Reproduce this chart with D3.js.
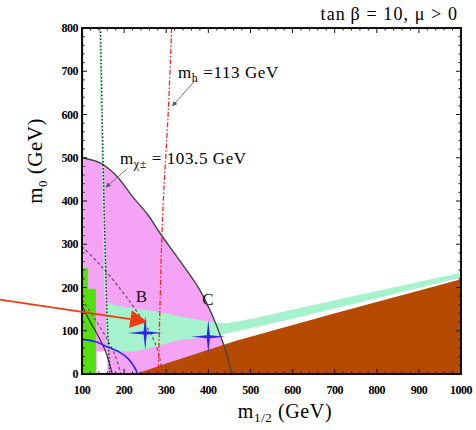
<!DOCTYPE html>
<html>
<head>
<meta charset="utf-8">
<script src="https://cdn.jsdelivr.net/npm/d3@7"></script>
<style>
  body { margin: 0; background: #fff; }
  svg { display: block; font-family: "Liberation Serif", "DejaVu Serif", serif; }
</style>
</head>
<body>
<svg id="chart" width="476" height="430"></svg>
<script>
// axis ticks
const xTicks = [100, 200, 300, 400, 500, 600, 700, 800, 900, 1000];
const yTicks = [0, 100, 200, 300, 400, 500, 600, 700, 800];

// regions, [m1/2, m0] in GeV
const pinkRegion = [[100, 500], [143, 488], [180, 460], [221, 409], [255, 370], [285, 326], [330, 265],
  [380, 194], [411, 132], [432, 80], [447, 35], [455, 0], [160, 0], [160, 52], [135, 52], [135, 0], [100, 0]];
const mintTop = [[156, 168], [175, 160], [220, 152], [285, 143], [350, 130], [400, 122], [440, 118], [466, 121], [703, 171], [1000, 234]];
const mintBottom = [[1000, 223], [703, 152], [466, 98], [400, 85], [330, 78], [280, 65], [240, 55], [200, 52], [165, 58], [158, 70]];
const mintEdgeStrip = [[100, 245], [100, 800], [104, 800], [104, 245]];
const mintLineStrip = [[140, 800], [143.5, 800], [155.5, 250], [157.5, 168], [153.5, 168], [151.5, 250]];
const brownRegion = [[228, 0], [300, 24], [466, 77], [703, 141], [1000, 219], [1000, 0]];
const greenRegion = [[100, 0], [100, 245], [114, 245], [114, 197], [133, 197], [133, 0]];

// contours
const charginoLine = [[144, 800], [148, 600], [152, 400], [156, 250], [159, 150], [162, 80], [166, 0]];
const higgsLine = [[313, 800], [305, 610], [293, 400], [289, 300], [285, 150], [281, 0]];
const g2Edge = [[100, 500], [143, 488], [180, 460], [221, 409], [255, 370], [285, 326], [330, 265],
  [380, 194], [411, 132], [432, 80], [447, 35], [455, 0]];
const dashedOuter = [[100, 295], [150, 245], [200, 185], [222, 156], [250, 115], [272, 75], [285, 35], [290, 0]];
const dashedInner = [[100, 172], [130, 128], [160, 80], [180, 40], [192, 0]];
const solidInner = [[100, 158], [120, 120], [140, 85], [155, 55], [165, 25], [172, 0]];
const blueLine = [[100, 80], [130, 75], [160, 63], [190, 50], [210, 35], [225, 15], [232, 0]];

// benchmark points
const points = [{ name: "B", m12: 250, m0: 95 }, { name: "C", m12: 400, m0: 86 }];
const pointLabels = [{ name: "B", m12: 241, m0: 166 }, { name: "C", m12: 399, m0: 160 }];

// annotations
const arrowFrom = [-95, 172], arrowTo = [255, 121];
const higgsArrow = [[370, 680], [315, 620]];
const charginoArrow = [[208, 475], [157, 432]];

const svg = d3.select("#chart");
const x = d3.scaleLinear().domain([100, 1000]).range([82, 461]);
const y = d3.scaleLinear().domain([0, 800]).range([374, 28]);

const poly = d3.line().x(d => x(d[0])).y(d => y(d[1]));
const curve = d3.line().x(d => x(d[0])).y(d => y(d[1])).curve(d3.curveCatmullRom);

const plot = svg.append("g");
plot.append("clipPath").attr("id", "clip").append("rect")
  .attr("x", x(100)).attr("y", y(800)).attr("width", x(1000) - x(100)).attr("height", y(0) - y(800));
const g = plot.append("g").attr("clip-path", "url(#clip)");

// filled regions
g.append("path").attr("d", curve(pinkRegion.slice(0, 12)) + "L" + pinkRegion.slice(12).map(d => x(d[0]) + "," + y(d[1])).join("L") + "Z")
  .attr("fill", "#f5a3f5");
g.append("path").attr("d", curve(mintTop) + "L" + curve(mintBottom).slice(1) + "Z").attr("fill", "#a6f2cc");
g.append("path").attr("d", poly(mintEdgeStrip) + "Z").attr("fill", "#a6f2cc");
g.append("path").attr("d", poly(mintLineStrip) + "Z").attr("fill", "#a6f2cc");
g.append("path").attr("d", poly(brownRegion) + "Z").attr("fill", "#b54a00");
g.append("path").attr("d", poly(greenRegion) + "Z").attr("fill", "#55e010");

// contour lines
const lines = [
  { d: g2Edge, stroke: "#444", w: 1.4, dash: null },
  { d: dashedOuter, stroke: "#6a4a6a", w: 1.2, dash: "3,2.5" },
  { d: dashedInner, stroke: "#6a4a6a", w: 1.1, dash: "3,2.5" },
  { d: solidInner, stroke: "#333", w: 1.2, dash: null },
  { d: charginoLine, stroke: "#222", w: 1.4, dash: "1.5,2" },
  { d: higgsLine, stroke: "#ff2020", w: 1.3, dash: "5,2,1.5,2" },
  { d: blueLine, stroke: "#2a2ae6", w: 1.6, dash: null }
];
g.selectAll("path.contour").data(lines).join("path").attr("class", "contour")
  .attr("d", d => curve(d.d)).attr("fill", "none")
  .attr("stroke", d => d.stroke).attr("stroke-width", d => d.w)
  .attr("stroke-dasharray", d => d.dash);

// benchmark stars
const star = (cx, cy, r, w) => {
  const p = [];
  for (let i = 0; i < 8; i++) {
    const a = i * Math.PI / 4, rr = i % 2 ? w : r;
    p.push([cx + rr * Math.cos(a), cy + rr * Math.sin(a)]);
  }
  return "M" + p.join("L") + "Z";
};
plot.selectAll("path.star").data(points).join("path").attr("class", "star")
  .attr("d", d => star(x(d.m12), y(d.m0), 17, 2.2)).attr("fill", "#2a2ae6");
plot.selectAll("text.pt").data(pointLabels).join("text").attr("class", "pt")
  .attr("x", d => x(d.m12)).attr("y", d => y(d.m0)).attr("text-anchor", "middle")
  .attr("font-size", 17).attr("fill", "#111").text(d => d.name);

// frame and ticks
const frame = svg.append("g");
frame.append("rect").attr("x", x(100)).attr("y", y(800)).attr("width", x(1000) - x(100)).attr("height", y(0) - y(800))
  .attr("fill", "none").attr("stroke", "#111").attr("stroke-width", 2);
const xMinor = d3.range(100, 1001, 20), yMinor = d3.range(0, 801, 20);
const tk = major => major ? 5 : 2.5;
frame.selectAll("line.xb").data(xMinor).join("line")
  .attr("x1", d => x(d)).attr("x2", d => x(d)).attr("y1", y(0)).attr("y2", d => y(0) - tk(d % 100 === 0))
  .attr("stroke", "#111");
frame.selectAll("line.xt").data(xMinor).join("line")
  .attr("x1", d => x(d)).attr("x2", d => x(d)).attr("y1", y(800)).attr("y2", d => y(800) + tk(d % 100 === 0))
  .attr("stroke", "#111");
frame.selectAll("line.yl").data(yMinor).join("line")
  .attr("y1", d => y(d)).attr("y2", d => y(d)).attr("x1", x(100)).attr("x2", d => x(100) + tk(d % 100 === 0))
  .attr("stroke", "#111");
frame.selectAll("line.yr").data(yMinor).join("line")
  .attr("y1", d => y(d)).attr("y2", d => y(d)).attr("x1", x(1000)).attr("x2", d => x(1000) - tk(d % 100 === 0))
  .attr("stroke", "#111");

frame.selectAll("text.xl").data(xTicks).join("text").attr("class", "xl")
  .attr("x", d => x(d)).attr("y", 394).attr("text-anchor", "middle")
  .attr("font-size", 12).attr("font-weight", "bold").attr("letter-spacing", -0.5).text(d => d);
frame.selectAll("text.yl").data(yTicks).join("text").attr("class", "yl")
  .attr("x", 78).attr("y", d => y(d) + 4).attr("text-anchor", "end")
  .attr("font-size", 12).attr("font-weight", "bold").attr("letter-spacing", -0.5).text(d => d);

// axis titles
const xt = svg.append("text").attr("x", 285).attr("y", 418).attr("text-anchor", "middle").attr("font-size", 20)
  .attr("letter-spacing", 0.6);
xt.append("tspan").text("m");
xt.append("tspan").attr("font-size", 13).attr("dy", 4).text("1/2");
xt.append("tspan").attr("dy", -4).text(" (GeV)");
const yt = svg.append("text").attr("transform", "translate(42,161) rotate(-90)").attr("text-anchor", "middle").attr("font-size", 21)
  .attr("letter-spacing", 0.5);
yt.append("tspan").text("m");
yt.append("tspan").attr("font-size", 13).attr("dy", 5).text("0");
yt.append("tspan").attr("dy", -5).text(" (GeV)");

// title
svg.append("text").attr("x", 458).attr("y", 20).attr("text-anchor", "end").attr("font-size", 18)
  .attr("letter-spacing", 1.1).text("tan\u2009\u03b2 = 10,  \u03bc > 0");

// contour labels
const hl = svg.append("text").attr("x", x(328)).attr("y", y(685)).attr("font-size", 17).attr("letter-spacing", 0.6);
hl.append("tspan").text("m");
hl.append("tspan").attr("font-size", 12).attr("dy", 4).text("h");
hl.append("tspan").attr("dy", -4).text(" =113 GeV");
const cl = svg.append("text").attr("x", x(190)).attr("y", y(486)).attr("font-size", 17).attr("letter-spacing", 0.6);
cl.append("tspan").text("m");
cl.append("tspan").attr("font-size", 12).attr("dy", 4).text("\u03c7\u00b1");
cl.append("tspan").attr("dy", -4).text(" = 103.5 GeV");

svg.append("defs").append("marker").attr("id", "ah").attr("viewBox", "0 0 10 10").attr("refX", 9).attr("refY", 5)
  .attr("markerWidth", 5).attr("markerHeight", 5).attr("orient", "auto")
  .append("path").attr("d", "M0,0L10,5L0,10Z").attr("fill", "#555");
[higgsArrow, charginoArrow].forEach(a => {
  svg.append("line").attr("x1", x(a[0][0])).attr("y1", y(a[0][1])).attr("x2", x(a[1][0])).attr("y2", y(a[1][1]))
    .attr("stroke", "#777").attr("stroke-width", 1).attr("marker-end", "url(#ah)");
});

// red pointer arrow
const ax0 = x(arrowFrom[0]), ay0 = y(arrowFrom[1]), ax1 = x(arrowTo[0]), ay1 = y(arrowTo[1]);
const ang = Math.atan2(ay1 - ay0, ax1 - ax0);
const hlen = 17, hw = 9;
const bx = ax1 - hlen * Math.cos(ang), by = ay1 - hlen * Math.sin(ang);
svg.append("line").attr("x1", ax0).attr("y1", ay0).attr("x2", bx).attr("y2", by)
  .attr("stroke", "#ee3b10").attr("stroke-width", 1.8);
svg.append("path").attr("d", "M" + [ax1, ay1] + "L" + [bx + hw * Math.sin(ang), by - hw * Math.cos(ang)] +
  "L" + [bx - hw * Math.sin(ang), by + hw * Math.cos(ang)] + "Z").attr("fill", "#ee3b10");
</script>
</body>
</html>
